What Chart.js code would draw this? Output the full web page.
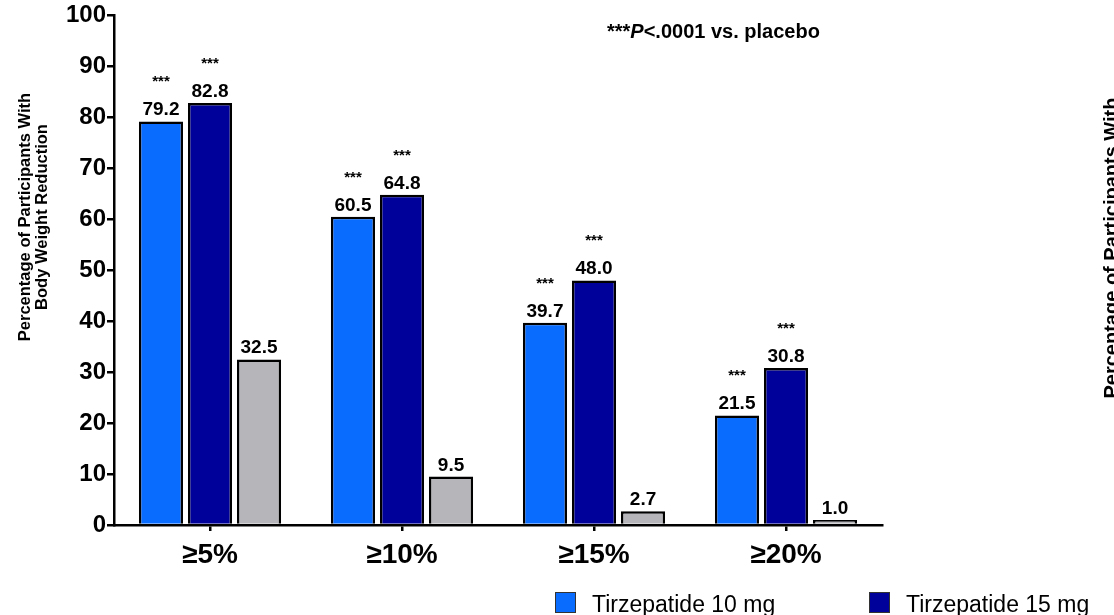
<!DOCTYPE html>
<html>
<head>
<meta charset="utf-8">
<script src="https://cdn.jsdelivr.net/npm/chart.js@4/dist/chart.umd.min.js"></script>
<style>
  html, body { margin: 0; padding: 0; background: #fff; overflow: hidden; }
  #wrap { width: 1114px; height: 615px; position: relative; }
</style>
</head>
<body>
<div id="wrap"><canvas id="c" width="1114" height="615"></canvas></div>
<script>
// Weight-reduction thresholds and share of participants reaching each one
const categories = ['≥5%', '≥10%', '≥15%', '≥20%'];
const tirzepatide10 = [79.2, 60.5, 39.7, 21.5];
const tirzepatide15 = [82.8, 64.8, 48.0, 30.8];
const placebo = [32.5, 9.5, 2.7, 1.0];
const seriesNames = ['Tirzepatide 10 mg', 'Tirzepatide 15 mg', 'Placebo'];
const significance10 = ['***', '***', '***', '***'];
const significance15 = ['***', '***', '***', '***'];
const yTickValues = [0, 10, 20, 30, 40, 50, 60, 70, 80, 90, 100];
const yTitleLines = ['Percentage of Participants With', 'Body Weight Reduction'];
const footnote = { stars: '***', p: 'P', rest: '<.0001 vs. placebo' };

const FONT = '"Liberation Sans", Arial, Helvetica, sans-serif';

// Value labels and significance stars above each bar
const barLabels = {
  id: 'barLabels',
  afterDatasetsDraw(chart) {
    const ctx = chart.ctx;
    ctx.save();
    ctx.fillStyle = '#000';
    ctx.textAlign = 'center';
    ctx.textBaseline = 'alphabetic';
    chart.data.datasets.forEach((ds, i) => {
      const meta = chart.getDatasetMeta(i);
      meta.data.forEach((bar, j) => {
        ctx.font = 'bold 19px ' + FONT;
        ctx.fillText(ds.data[j].toFixed(1), bar.x, bar.y - 6);
        if (ds.stars && ds.stars[j]) {
          ctx.font = 'bold 15px ' + FONT;
          ctx.fillText(ds.stars[j], bar.x, bar.y - 35);
        }
      });
    });
    ctx.restore();
  }
};

// Axis titles, footnote and the legend row
const decorations = {
  id: 'decorations',
  afterDraw(chart) {
    const ctx = chart.ctx;
    ctx.save();
    ctx.fillStyle = '#000';

    // left y-axis title (two lines, rotated)
    ctx.save();
    ctx.translate(0, 217);
    ctx.rotate(-Math.PI / 2);
    ctx.textAlign = 'center';
    ctx.textBaseline = 'alphabetic';
    ctx.font = 'bold 16.5px ' + FONT;
    ctx.fillText(yTitleLines[0], 0, 30);
    ctx.fillText(yTitleLines[1], 0, 47);
    ctx.restore();

    // neighbouring panel's y-axis title, running off the right edge
    ctx.save();
    ctx.translate(1118, 248);
    ctx.rotate(-Math.PI / 2);
    ctx.textAlign = 'center';
    ctx.textBaseline = 'alphabetic';
    ctx.font = 'bold 20px ' + FONT;
    ctx.fillText(yTitleLines[0], 0, 0);
    ctx.restore();

    // significance footnote
    ctx.textAlign = 'left';
    ctx.textBaseline = 'alphabetic';
    let x = 607;
    const y = 38;
    ctx.font = 'bold 20px ' + FONT;
    ctx.fillText(footnote.stars, x, y);
    x += ctx.measureText(footnote.stars).width;
    ctx.font = 'italic bold 20px ' + FONT;
    ctx.fillText(footnote.p, x, y);
    x += ctx.measureText(footnote.p).width;
    ctx.font = 'bold 20px ' + FONT;
    ctx.fillText(footnote.rest, x, y);

    // legend
    const startX = 555, pitch = 314, boxSize = 21, boxTop = 592;
    ctx.font = '23px ' + FONT;
    chart.data.datasets.forEach((ds, i) => {
      const bx = startX + i * pitch;
      ctx.fillStyle = ds.backgroundColor;
      ctx.fillRect(bx, boxTop, boxSize, boxSize);
      ctx.strokeStyle = '#333';
      ctx.lineWidth = 1;
      ctx.strokeRect(bx + 0.5, boxTop + 0.5, boxSize - 1, boxSize - 1);
      ctx.fillStyle = '#000';
      ctx.fillText(ds.label, bx + boxSize + 16, 612);
    });
    ctx.restore();
  }
};

new Chart(document.getElementById('c'), {
  type: 'bar',
  data: {
    labels: categories,
    datasets: [
      { label: seriesNames[0], data: tirzepatide10, stars: significance10, backgroundColor: '#0a6cff' },
      { label: seriesNames[1], data: tirzepatide15, stars: significance15, backgroundColor: '#00009a' },
      { label: seriesNames[2], data: placebo, backgroundColor: '#b5b5ba' }
    ]
  },
  options: {
    responsive: false,
    animation: false,
    devicePixelRatio: 1,
    layout: { padding: { left: 0, right: 232, top: 15, bottom: 0 } },
    datasets: {
      bar: {
        categoryPercentage: 0.766,
        barPercentage: 0.9,
        borderColor: '#000',
        borderWidth: 2.5,
        borderSkipped: 'start'
      }
    },
    plugins: {
      legend: { display: false },
      tooltip: { enabled: false },
      title: { display: false }
    },
    scales: {
      x: {
        grid: { display: true, offset: false, drawOnChartArea: false, drawTicks: true, tickLength: 6, color: '#000', lineWidth: 2.5 },
        border: { display: true, color: '#000', width: 2.5 },
        ticks: { color: '#000', padding: 7, font: { family: FONT, size: 28, weight: 'bold' } },
        afterFit(scale) { scale.height = 90; }
      },
      y: {
        min: 0,
        max: 100,
        afterBuildTicks(scale) { scale.ticks = yTickValues.map(v => ({ value: v })); },
        grid: { display: true, drawOnChartArea: false, drawTicks: true, tickLength: 7, color: '#000', lineWidth: 2.5 },
        border: { display: true, color: '#000', width: 2.5 },
        ticks: { color: '#000', padding: 1, font: { family: FONT, size: 24, weight: 'bold' } },
        afterFit(scale) { scale.width = 114; }
      }
    }
  },
  plugins: [barLabels, decorations]
});
</script>
</body>
</html>
